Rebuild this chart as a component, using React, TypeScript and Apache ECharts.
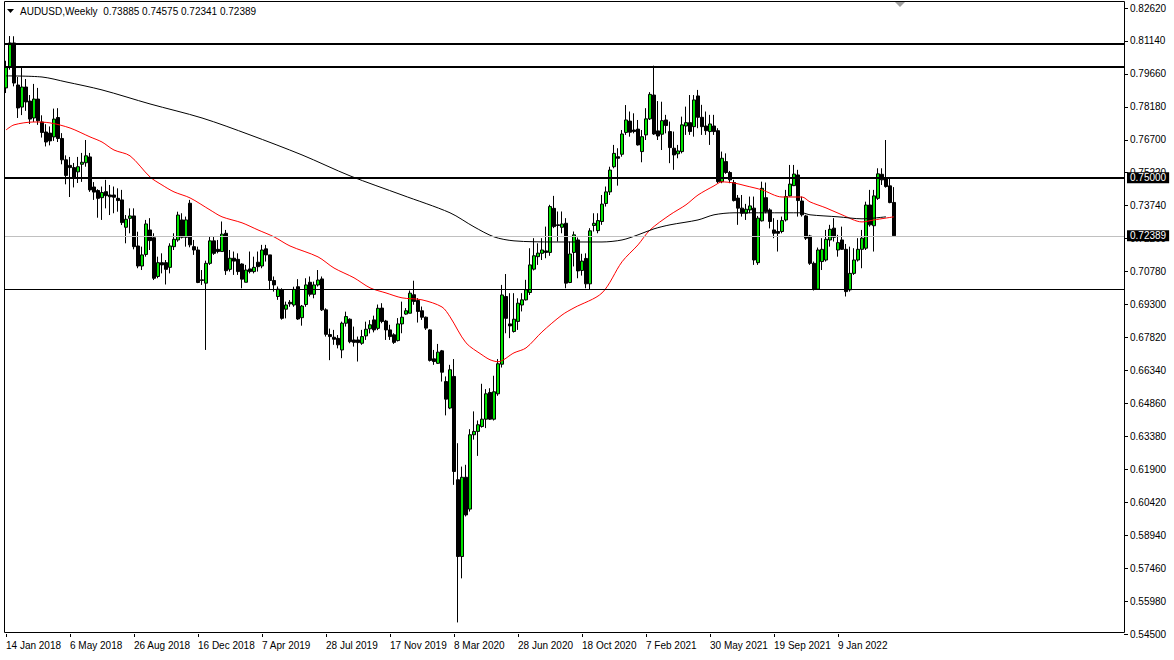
import React, { useEffect, useRef } from "react";
import * as echarts from "echarts";

const FONT = '"Liberation Sans", Arial, sans-serif';

const titleText = "AUDUSD,Weekly  0.73885 0.74575 0.72341 0.72389";

// date labels every 16 weekly bars
const xTickLabels = [
  "14 Jan 2018", "6 May 2018", "26 Aug 2018", "16 Dec 2018", "7 Apr 2019",
  "28 Jul 2019", "17 Nov 2019", "8 Mar 2020", "28 Jun 2020", "18 Oct 2020",
  "7 Feb 2021", "30 May 2021", "19 Sep 2021", "9 Jan 2022",
];
const LABEL_STEP = 16;
const TOTAL_SLOTS = 280;

const yTicks = [
  0.545, 0.5598, 0.5746, 0.5894, 0.6042, 0.619, 0.6338, 0.6486, 0.6634, 0.6782,
  0.693, 0.7078, 0.7226, 0.7374, 0.7522, 0.767, 0.7818, 0.7966, 0.8114, 0.8262,
];

// [open, close, low, high]
const candles2018 = [
  [0.7903, 0.7997, 0.788, 0.8025], [0.7997, 0.8105, 0.7985, 0.8136], [0.8105, 0.7925, 0.791, 0.8135],
  [0.7916, 0.7813, 0.7768, 0.7952], [0.7817, 0.7907, 0.7781, 0.7993], [0.7907, 0.784, 0.78, 0.7943],
  [0.7844, 0.7763, 0.7741, 0.7871], [0.7768, 0.7853, 0.775, 0.7921], [0.7853, 0.7755, 0.7737, 0.7903],
  [0.775, 0.7703, 0.768, 0.778], [0.7705, 0.766, 0.764, 0.774], [0.77, 0.7665, 0.7645, 0.773],
  [0.7683, 0.7763, 0.7665, 0.781], [0.777, 0.7676, 0.766, 0.7812], [0.7676, 0.758, 0.756, 0.77],
  [0.758, 0.751, 0.747, 0.76], [0.7555, 0.7545, 0.7413, 0.7593], [0.7545, 0.75, 0.7456, 0.7566],
  [0.7526, 0.7549, 0.7476, 0.7593], [0.756, 0.7569, 0.7481, 0.7611], [0.7567, 0.7598, 0.7549, 0.7669],
  [0.7593, 0.7445, 0.7436, 0.7611], [0.7458, 0.7435, 0.74, 0.748], [0.7442, 0.7407, 0.732, 0.7448],
  [0.741, 0.7433, 0.731, 0.746], [0.7437, 0.7419, 0.7362, 0.749], [0.7422, 0.7414, 0.7332, 0.7467],
  [0.7422, 0.7412, 0.734, 0.746], [0.7407, 0.7397, 0.7347, 0.7452], [0.74, 0.7298, 0.7287, 0.7445],
  [0.7277, 0.7313, 0.7205, 0.7332], [0.7317, 0.7328, 0.725, 0.7362], [0.7328, 0.719, 0.7178, 0.7362],
  [0.7193, 0.7103, 0.7093, 0.7257], [0.7103, 0.7153, 0.7085, 0.719], [0.7155, 0.7292, 0.7145, 0.731],
  [0.7265, 0.7217, 0.7175, 0.7318], [0.723, 0.7048, 0.704, 0.725], [0.7056, 0.7118, 0.7048, 0.7145],
  [0.7118, 0.7108, 0.707, 0.716], [0.7118, 0.7088, 0.702, 0.713], [0.7097, 0.7193, 0.707, 0.7205],
  [0.719, 0.7223, 0.7175, 0.725], [0.722, 0.7332, 0.7212, 0.7347], [0.731, 0.7232, 0.7227, 0.734],
  [0.7232, 0.731, 0.719, 0.7325], [0.7385, 0.7198, 0.7187, 0.74], [0.719, 0.7175, 0.7153, 0.722],
  [0.7175, 0.7029, 0.7026, 0.719], [0.7041, 0.7038, 0.7018, 0.7085], [0.7026, 0.7115, 0.6726, 0.7127],
];
const candles2019 = [
  [0.7115, 0.7216, 0.7108, 0.7235], [0.7216, 0.716, 0.7153, 0.7235], [0.7178, 0.7168, 0.716, 0.722],
  [0.7168, 0.7246, 0.7168, 0.7303], [0.725, 0.7082, 0.7063, 0.7265], [0.7088, 0.7138, 0.7078, 0.7175],
  [0.7138, 0.7125, 0.7063, 0.7168], [0.7133, 0.7078, 0.7063, 0.716], [0.7112, 0.7044, 0.7003, 0.7115],
  [0.703, 0.7085, 0.703, 0.7108], [0.709, 0.7078, 0.707, 0.7168], [0.7078, 0.7097, 0.707, 0.7145],
  [0.712, 0.71, 0.7078, 0.7168], [0.7103, 0.7175, 0.7093, 0.7198], [0.718, 0.7153, 0.7123, 0.7198],
  [0.7153, 0.7038, 0.6996, 0.7153], [0.7038, 0.7018, 0.6988, 0.7056], [0.6966, 0.6999, 0.6951, 0.7011],
  [0.6996, 0.6868, 0.6862, 0.7003], [0.6909, 0.6928, 0.6868, 0.6943], [0.694, 0.6933, 0.692, 0.695],
  [0.6928, 0.6998, 0.692, 0.701], [0.701, 0.6865, 0.6861, 0.7044], [0.6871, 0.6923, 0.6835, 0.6928],
  [0.693, 0.7018, 0.692, 0.7048], [0.703, 0.6976, 0.6966, 0.7056], [0.6976, 0.7018, 0.6958, 0.7033],
  [0.7018, 0.704, 0.7011, 0.7085], [0.7045, 0.6906, 0.6901, 0.7056], [0.6906, 0.6796, 0.6786, 0.6913],
  [0.6795, 0.6786, 0.668, 0.6822], [0.6783, 0.6774, 0.6749, 0.6816], [0.6778, 0.6749, 0.6733, 0.6793],
  [0.6726, 0.6846, 0.6689, 0.6853], [0.6846, 0.6876, 0.6831, 0.6898], [0.6864, 0.6763, 0.6756, 0.6868],
  [0.6771, 0.676, 0.6741, 0.6831], [0.6771, 0.6759, 0.6674, 0.6786], [0.6756, 0.6786, 0.6749, 0.6816],
  [0.6789, 0.6819, 0.6771, 0.6853], [0.6821, 0.6839, 0.68, 0.686], [0.6861, 0.6816, 0.6805, 0.688],
  [0.6823, 0.6913, 0.6815, 0.693], [0.6914, 0.6854, 0.6846, 0.6936], [0.6856, 0.6816, 0.6771, 0.6861],
  [0.6816, 0.6786, 0.6771, 0.6839], [0.6794, 0.676, 0.6753, 0.6801], [0.6768, 0.6843, 0.6764, 0.6869],
  [0.6843, 0.6873, 0.6801, 0.6943], [0.6887, 0.6902, 0.6884, 0.6914], [0.6891, 0.6981, 0.6891, 0.6993],
  [0.6974, 0.6944, 0.6929, 0.7037],
];
const candles2020 = [
  [0.6948, 0.6899, 0.6849, 0.6959], [0.6902, 0.6873, 0.6861, 0.6921], [0.6873, 0.6824, 0.6816, 0.6876],
  [0.6816, 0.6679, 0.6674, 0.6819], [0.6686, 0.6674, 0.6659, 0.6726], [0.6666, 0.6716, 0.6663, 0.6753],
  [0.6722, 0.6626, 0.6584, 0.6726], [0.6584, 0.6505, 0.6432, 0.6607], [0.6465, 0.6637, 0.646, 0.6659],
  [0.6607, 0.618, 0.612, 0.6685], [0.6143, 0.5798, 0.5502, 0.6307], [0.5798, 0.6154, 0.57, 0.6202],
  [0.6154, 0.5985, 0.5978, 0.621], [0.6011, 0.6345, 0.6, 0.637], [0.6345, 0.636, 0.6323, 0.645],
  [0.636, 0.639, 0.625, 0.6409], [0.6382, 0.6415, 0.6377, 0.6574], [0.6415, 0.6529, 0.6375, 0.655],
  [0.6535, 0.6415, 0.6412, 0.6554], [0.6415, 0.6538, 0.6409, 0.661], [0.6529, 0.6664, 0.652, 0.6685],
  [0.6662, 0.6973, 0.6647, 0.7018], [0.6966, 0.6868, 0.6801, 0.7067], [0.6843, 0.6834, 0.6779, 0.6981],
  [0.6809, 0.6864, 0.6804, 0.6981], [0.6854, 0.6936, 0.6816, 0.6958], [0.6928, 0.6951, 0.6899, 0.6981],
  [0.6951, 0.6996, 0.6948, 0.7041], [0.6984, 0.7108, 0.6973, 0.7183], [0.7089, 0.7149, 0.7083, 0.7228],
  [0.7145, 0.7161, 0.7108, 0.7205], [0.716, 0.7175, 0.713, 0.7228], [0.7171, 0.7164, 0.7138, 0.728],
  [0.7164, 0.737, 0.7149, 0.7378], [0.7362, 0.728, 0.7273, 0.7418], [0.7288, 0.7285, 0.7213, 0.7348],
  [0.7277, 0.7292, 0.725, 0.7348], [0.7295, 0.7026, 0.7003, 0.7318], [0.7029, 0.7157, 0.7026, 0.7213],
  [0.7164, 0.7243, 0.7101, 0.7258], [0.722, 0.7081, 0.7048, 0.7231], [0.7083, 0.7125, 0.706, 0.7158],
  [0.7137, 0.7023, 0.7003, 0.716], [0.7023, 0.7261, 0.6998, 0.7273], [0.7285, 0.7295, 0.7258, 0.734],
  [0.7262, 0.7307, 0.725, 0.734], [0.7303, 0.7381, 0.7288, 0.7422], [0.7384, 0.7436, 0.737, 0.746],
  [0.7436, 0.7534, 0.7422, 0.7549], [0.7549, 0.7609, 0.7542, 0.7647], [0.7594, 0.7587, 0.7464, 0.7632],
  [0.7605, 0.7696, 0.7594, 0.7714],
];
const candles2021 = [
  [0.7703, 0.7759, 0.7692, 0.7826], [0.7754, 0.7704, 0.7684, 0.7797], [0.7714, 0.7707, 0.7699, 0.7789],
  [0.7718, 0.7647, 0.7644, 0.7759], [0.7617, 0.7684, 0.7569, 0.7714], [0.7692, 0.7764, 0.7669, 0.7812],
  [0.7764, 0.7874, 0.7759, 0.7884], [0.7871, 0.7696, 0.7692, 0.8003], [0.771, 0.7687, 0.7669, 0.7844],
  [0.7695, 0.7756, 0.7624, 0.7841], [0.7759, 0.7734, 0.7699, 0.7782], [0.7707, 0.7635, 0.7565, 0.7752],
  [0.7632, 0.7602, 0.7535, 0.7707], [0.7607, 0.762, 0.7587, 0.7647], [0.7617, 0.7737, 0.7609, 0.7774],
  [0.7732, 0.7747, 0.7692, 0.7819], [0.7747, 0.7707, 0.7692, 0.7871], [0.7729, 0.7849, 0.7684, 0.7871],
  [0.7867, 0.7771, 0.7722, 0.7894], [0.7771, 0.7729, 0.7692, 0.7827], [0.7732, 0.7711, 0.7692, 0.7797],
  [0.7707, 0.7741, 0.7647, 0.7782], [0.7732, 0.7707, 0.7692, 0.7782], [0.7711, 0.7482, 0.7475, 0.7722],
  [0.7482, 0.7587, 0.7475, 0.7617], [0.7572, 0.7523, 0.7517, 0.7609], [0.7523, 0.749, 0.7475, 0.753],
  [0.7478, 0.7397, 0.7393, 0.749], [0.7408, 0.7363, 0.7288, 0.7422], [0.7363, 0.734, 0.7325, 0.7422],
  [0.734, 0.7358, 0.731, 0.7382], [0.7355, 0.7373, 0.734, 0.7415], [0.7363, 0.713, 0.7108, 0.7415],
  [0.7118, 0.7318, 0.7108, 0.7328], [0.7306, 0.7452, 0.7303, 0.7482], [0.741, 0.7347, 0.734, 0.7478],
  [0.7355, 0.7303, 0.7272, 0.7362], [0.7265, 0.725, 0.7228, 0.7318], [0.7258, 0.725, 0.7168, 0.731],
  [0.7258, 0.7307, 0.725, 0.7325], [0.731, 0.7415, 0.7303, 0.7445], [0.7418, 0.7471, 0.7415, 0.7557],
  [0.7464, 0.7516, 0.7462, 0.7557], [0.7512, 0.7397, 0.7325, 0.7535], [0.7395, 0.7333, 0.7325, 0.7415],
  [0.7328, 0.7228, 0.722, 0.7333], [0.7238, 0.7115, 0.7108, 0.7243], [0.7115, 0.6999, 0.6993, 0.7123],
  [0.6999, 0.7175, 0.6996, 0.7186], [0.7123, 0.7178, 0.7085, 0.7228], [0.713, 0.7223, 0.7123, 0.7265],
  [0.722, 0.7268, 0.719, 0.7288],
];
const candles2022 = [
  [0.7273, 0.7232, 0.7213, 0.7318], [0.7175, 0.7208, 0.7145, 0.7243], [0.722, 0.7178, 0.7175, 0.728],
  [0.7178, 0.6988, 0.6966, 0.7202], [0.6996, 0.707, 0.6988, 0.719], [0.707, 0.713, 0.7063, 0.7183],
  [0.713, 0.7178, 0.7123, 0.7228], [0.7178, 0.7228, 0.7093, 0.7265], [0.7183, 0.7377, 0.7175, 0.7392],
  [0.7377, 0.7288, 0.728, 0.7445], [0.7284, 0.7418, 0.7168, 0.7445], [0.7407, 0.7517, 0.74, 0.7542],
  [0.7515, 0.749, 0.7467, 0.7542], [0.75, 0.746, 0.7455, 0.7669], [0.7463, 0.7388, 0.7385, 0.7497],
  [0.73885, 0.72389, 0.72341, 0.74575],
];

// moving averages: [bar index, value]
const redMA = [
  [0, 0.7714], [2, 0.7737], [7, 0.775], [11, 0.7746], [16, 0.7723], [21, 0.7683], [24, 0.766],
  [27, 0.7624], [31, 0.7598], [36, 0.7503], [39, 0.7467], [42, 0.7436], [46, 0.7409], [51, 0.7355],
  [54, 0.7324], [59, 0.7297], [63, 0.7265], [67, 0.7234], [71, 0.7193], [78, 0.7144], [82, 0.7094],
  [87, 0.705], [91, 0.7005], [95, 0.6982], [99, 0.696], [104, 0.6951], [109, 0.6919], [111, 0.6875],
  [115, 0.6758], [119, 0.6704], [121, 0.6682], [123, 0.6673], [127, 0.6713], [130, 0.6735],
  [134, 0.6807], [139, 0.6883], [142, 0.6915], [149, 0.6982], [154, 0.7122], [158, 0.7198],
  [161, 0.7265], [166, 0.7333], [170, 0.7378], [173, 0.7422], [177, 0.7463], [179, 0.7481],
  [182, 0.7476], [185, 0.7463], [189, 0.7445], [194, 0.7413], [199, 0.7413], [201, 0.7391],
  [205, 0.7364], [209, 0.7333], [214, 0.7301], [217, 0.731], [222, 0.7324],
];
const blackMA = [
  [0, 0.7957], [9, 0.7952], [15, 0.793], [24, 0.7894], [36, 0.7831], [49, 0.7768], [61, 0.7692],
  [74, 0.7602], [86, 0.7508], [99, 0.7422], [111, 0.7342], [117, 0.7279], [122, 0.7234],
  [127, 0.7216], [137, 0.7211], [149, 0.7211], [154, 0.722], [158, 0.7243], [162, 0.727],
  [166, 0.7288], [173, 0.731], [177, 0.7333], [182, 0.7342], [190, 0.7342], [199, 0.7342],
  [201, 0.7333], [208, 0.7324], [214, 0.7315], [220, 0.7324],
];

const thickLevels = [0.81, 0.8, 0.75];
const thinLevels = [0.7];
const lastPrice = 0.72389;
const labeledLevel = 0.75;

export default function App() {
  const ref = useRef<HTMLDivElement>(null);

  useEffect(() => {
    const chart = echarts.init(ref.current!, null, { renderer: "svg" });
    const candles = [...candles2018, ...candles2019, ...candles2020, ...candles2021, ...candles2022];
    const categories = Array.from({ length: TOTAL_SLOTS }, (_, i) => String(i));
    const showLabel = (idx: number) =>
      idx % LABEL_STEP === 0 && idx / LABEL_STEP < xTickLabels.length;

    const boxLabel = (txt: string) => ({
      show: true,
      position: "end",
      formatter: txt,
      backgroundColor: "#000",
      color: "#fff",
      fontFamily: FONT,
      fontSize: 10,
      padding: [1, 3, 0, 3],
      distance: 3,
    });

    const markData: any[] = [
      ...thickLevels.map((v) => ({
        yAxis: v,
        lineStyle: { color: "#000", width: 2, type: "solid" },
        label: v === labeledLevel ? boxLabel(v.toFixed(5)) : { show: false },
      })),
      ...thinLevels.map((v) => ({
        yAxis: v,
        lineStyle: { color: "#000", width: 1, type: "solid" },
        label: { show: false },
      })),
      {
        yAxis: lastPrice,
        lineStyle: { color: "#c0c0c0", width: 1, type: "solid" },
        label: boxLabel(lastPrice.toFixed(5)),
      },
    ];

    chart.setOption({
      animation: false,
      backgroundColor: "#fff",
      grid: { left: 4, right: 50, top: 8, bottom: 26, containLabel: false },
      xAxis: {
        type: "category",
        data: categories,
        boundaryGap: true,
        axisLine: { show: false },
        axisTick: {
          show: true,
          interval: (idx: number) => showLabel(idx),
          alignWithLabel: true,
          length: 3,
          lineStyle: { color: "#000" },
        },
        axisLabel: {
          interval: (idx: number) => showLabel(idx),
          formatter: (_v: string, idx: number) => xTickLabels[idx / LABEL_STEP] ?? "",
          align: "left",
          color: "#000",
          fontFamily: FONT,
          fontSize: 10,
          margin: 6,
        },
        splitLine: { show: false },
      },
      yAxis: {
        type: "value",
        position: "right",
        min: 0.545,
        max: 0.8262,
        scale: true,
        splitLine: { show: false },
        axisLine: { show: false },
        axisTick: {
          show: true,
          customValues: yTicks,
          length: 4,
          lineStyle: { color: "#000" },
        },
        axisLabel: {
          customValues: yTicks,
          formatter: (v: number) => v.toFixed(5),
          color: "#000",
          fontFamily: FONT,
          fontSize: 10,
          margin: 6,
        },
      },
      series: [
        {
          type: "candlestick",
          data: candles,
          barWidth: 3,
          itemStyle: {
            color: "#00e400",
            color0: "#000",
            borderColor: "#000",
            borderColor0: "#000",
            borderWidth: 1,
          },
          markLine: {
            silent: true,
            precision: 5,
            symbol: ["none", "none"],
            animation: false,
            data: markData,
          },
          z: 2,
        },
        {
          type: "line",
          data: redMA,
          showSymbol: false,
          smooth: 0.3,
          lineStyle: { color: "#ff0000", width: 1 },
          z: 3,
        },
        {
          type: "line",
          data: blackMA,
          showSymbol: false,
          smooth: 0.3,
          lineStyle: { color: "#000", width: 1 },
          z: 3,
        },
      ],
      graphic: [
        {
          type: "rect",
          silent: true,
          z: 10,
          shape: { x: 4.5, y: 1.5, width: 1120, height: 631 },
          style: { fill: "none", stroke: "#000", lineWidth: 1 },
        },
        {
          type: "polygon",
          silent: true,
          z: 10,
          shape: { points: [[7, 9], [14, 9], [10.5, 13]] },
          style: { fill: "#000" },
        },
        {
          type: "polygon",
          silent: true,
          z: 10,
          shape: { points: [[895, 2], [905, 2], [900, 7]] },
          style: { fill: "#a0a0a0" },
        },
        {
          type: "text",
          silent: true,
          z: 10,
          left: 20,
          top: 6,
          style: { text: titleText, fill: "#000", font: `10px ${FONT}` },
        },
      ],
    });

    return () => chart.dispose();
  }, []);

  return (
    <div
      ref={ref}
      style={{ position: "fixed", left: 0, top: 0, width: 1174, height: 660, background: "#fff" }}
    />
  );
}
